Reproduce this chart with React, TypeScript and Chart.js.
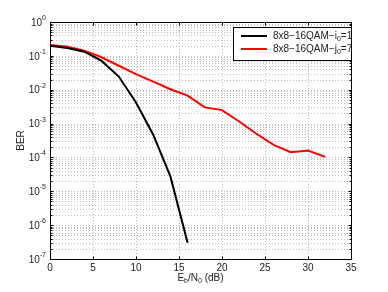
import React, { useEffect, useRef } from "react";
import { Chart, registerables } from "chart.js";

Chart.register(...registerables);

const blackX = [0, 2, 4, 6, 8, 10, 12, 14, 16];
const blackBER = [0.2, 0.17, 0.133, 0.071, 0.0245, 0.0042, 4.7e-4, 2.75e-5, 3.0e-7];
const redX = [0, 2, 4, 6, 8, 10, 12, 14, 16, 18, 20, 22, 24, 26, 28, 30, 32];
const redBER = [0.21, 0.187, 0.143, 0.091, 0.051, 0.029, 0.0174, 0.0103, 0.0067, 0.003, 0.0025, 0.00115, 5.0e-4, 2.35e-4, 1.43e-4, 1.6e-4, 1.04e-4];
const seriesNames = ["8x8\u221216QAM\u2212i", "8x8\u221216QAM\u2212j"];
const seriesSubs = ["0", "0"];
const seriesTails = ["=1", "=7"];
const seriesColors = ["#000000", "#ff0000"];
const xTicks = [0, 5, 10, 15, 20, 25, 30, 35];
const yExponents = [0, -1, -2, -3, -4, -5, -6, -7];

const FONT = "'Liberation Sans', Arial, Helvetica, sans-serif";

type Part = { t: string; s?: "sub" | "sup" };

function drawRich(ctx: CanvasRenderingContext2D, parts: Part[], x: number, y: number, align: string, size: number) {
  const small = Math.round(size * 0.72);
  let total = 0;
  const widths: number[] = [];
  for (const p of parts) {
    ctx.font = `${p.s ? small : size}px ${FONT}`;
    const w = ctx.measureText(p.t).width;
    widths.push(w);
    total += w;
  }
  let cx = align === "right" ? x - total : align === "center" ? x - total / 2 : x;
  ctx.textAlign = "left";
  ctx.textBaseline = "middle";
  parts.forEach((p, i) => {
    ctx.font = `${p.s ? small : size}px ${FONT}`;
    const dy = p.s === "sub" ? size * 0.35 : p.s === "sup" ? -size * 0.5 : 0;
    ctx.fillText(p.t, cx, y + dy);
    cx += widths[i];
  });
}

const matlabPlugin = {
  id: "matlabDecor",
  beforeDatasetsDraw(chart: any) {
    const ctx: CanvasRenderingContext2D = chart.ctx;
    const { left, right, top, bottom } = chart.chartArea;
    const xs = chart.scales.x;
    const ys = chart.scales.y;
    ctx.save();
    ctx.strokeStyle = "#bdbdbd";
    ctx.lineWidth = 1;
    ctx.setLineDash([1, 2]);
    for (const v of xTicks) {
      const px = Math.round(xs.getPixelForValue(v)) + 0.5;
      if (px <= left + 1 || px >= right - 1) continue;
      ctx.beginPath();
      ctx.moveTo(px, top);
      ctx.lineTo(px, bottom);
      ctx.stroke();
    }
    for (const e of yExponents) {
      for (let m = 1; m <= 9; m++) {
        const v = m * Math.pow(10, e);
        if (v > 1 || v < 1e-7) continue;
        const py = Math.round(ys.getPixelForValue(v)) + 0.5;
        if (py <= top + 1 || py >= bottom - 1) continue;
        ctx.beginPath();
        ctx.moveTo(left, py);
        ctx.lineTo(right, py);
        ctx.stroke();
      }
    }
    ctx.restore();
  },
  afterDatasetsDraw(chart: any) {
    const ctx: CanvasRenderingContext2D = chart.ctx;
    const { left, right, top, bottom } = chart.chartArea;
    const xs = chart.scales.x;
    const ys = chart.scales.y;
    ctx.save();
    ctx.setLineDash([]);
    ctx.strokeStyle = "#000";
    ctx.fillStyle = "#000";
    ctx.lineWidth = 1;
    const L = Math.round(left) + 0.5;
    const R = Math.round(right) + 0.5;
    const T = Math.round(top) + 0.5;
    const B = Math.round(bottom) + 0.5;
    ctx.strokeRect(L, T, R - L, B - T);
    ctx.beginPath();
    for (const v of xTicks) {
      const px = Math.round(xs.getPixelForValue(v)) + 0.5;
      ctx.moveTo(px, B);
      ctx.lineTo(px, B - 3);
      ctx.moveTo(px, T);
      ctx.lineTo(px, T + 3);
    }
    for (const e of yExponents) {
      for (let m = 1; m <= 9; m++) {
        const v = m * Math.pow(10, e);
        if (v > 1 || v < 1e-7) continue;
        const py = Math.round(ys.getPixelForValue(v)) + 0.5;
        const len = m === 1 ? 3 : 2;
        ctx.moveTo(L, py);
        ctx.lineTo(L + len, py);
        ctx.moveTo(R, py);
        ctx.lineTo(R - len, py);
      }
    }
    ctx.stroke();
    ctx.fillStyle = "#222";
    for (const v of xTicks) {
      drawRich(ctx, [{ t: String(v) }], xs.getPixelForValue(v), 268, "center", 10);
    }
    for (const e of yExponents) {
      const py = ys.getPixelForValue(Math.pow(10, e));
      drawRich(ctx, [{ t: "10" }, { t: e === 0 ? "0" : "-" + String(-e), s: "sup" }], 46, py + 1, "right", 10);
    }
    drawRich(ctx, [{ t: "E" }, { t: "b", s: "sub" }, { t: "/N" }, { t: "0", s: "sub" }, { t: " (dB)" }], (left + right) / 2, 278, "center", 10);
    ctx.save();
    ctx.translate(21, (top + bottom) / 2);
    ctx.rotate(-Math.PI / 2);
    drawRich(ctx, [{ t: "BER" }], 0, 0, "center", 10);
    ctx.restore();
    const lx = 233.5, ly = 27.5, lw = 118, lh = 33;
    ctx.fillStyle = "#fff";
    ctx.fillRect(lx, ly, lw, lh);
    ctx.strokeStyle = "#000";
    ctx.lineWidth = 1;
    ctx.strokeRect(lx, ly, lw, lh);
    const rows = [36, 49];
    seriesNames.forEach((name, i) => {
      ctx.strokeStyle = seriesColors[i];
      ctx.lineWidth = 2;
      ctx.beginPath();
      ctx.moveTo(241, rows[i]);
      ctx.lineTo(267, rows[i]);
      ctx.stroke();
      ctx.fillStyle = "#222";
      drawRich(ctx, [{ t: name }, { t: seriesSubs[i], s: "sub" }, { t: seriesTails[i] }], 273, rows[i], "left", 10);
    });
    ctx.restore();
  },
};

export default function App() {
  const ref = useRef<HTMLCanvasElement>(null);
  useEffect(() => {
    document.body.style.margin = "0";
    const canvas = ref.current!;
    const chart = new Chart(canvas, {
      type: "line",
      data: {
        datasets: [
          {
            label: seriesNames[0] + seriesSubs[0] + seriesTails[0],
            data: blackX.map((x, i) => ({ x, y: blackBER[i] })),
            borderColor: seriesColors[0],
            borderWidth: 2,
            pointRadius: 0,
            tension: 0,
            fill: false,
          },
          {
            label: seriesNames[1] + seriesSubs[1] + seriesTails[1],
            data: redX.map((x, i) => ({ x, y: redBER[i] })),
            borderColor: seriesColors[1],
            borderWidth: 2,
            pointRadius: 0,
            tension: 0,
            fill: false,
          },
        ],
      },
      options: {
        animation: false,
        responsive: false,
        maintainAspectRatio: false,
        devicePixelRatio: 1,
        layout: { padding: { left: 50, top: 22, right: 37, bottom: 33 } },
        plugins: { legend: { display: false }, tooltip: { enabled: false } },
        scales: {
          x: { type: "linear", min: 0, max: 35, display: false },
          y: { type: "logarithmic", min: 1e-7, max: 1, display: false },
        },
      },
      plugins: [matlabPlugin],
    });
    return () => chart.destroy();
  }, []);
  return (
    <div style={{ width: 388, height: 292, background: "#fff" }}>
      <canvas ref={ref} width={388} height={292} style={{ display: "block" }} />
    </div>
  );
}
